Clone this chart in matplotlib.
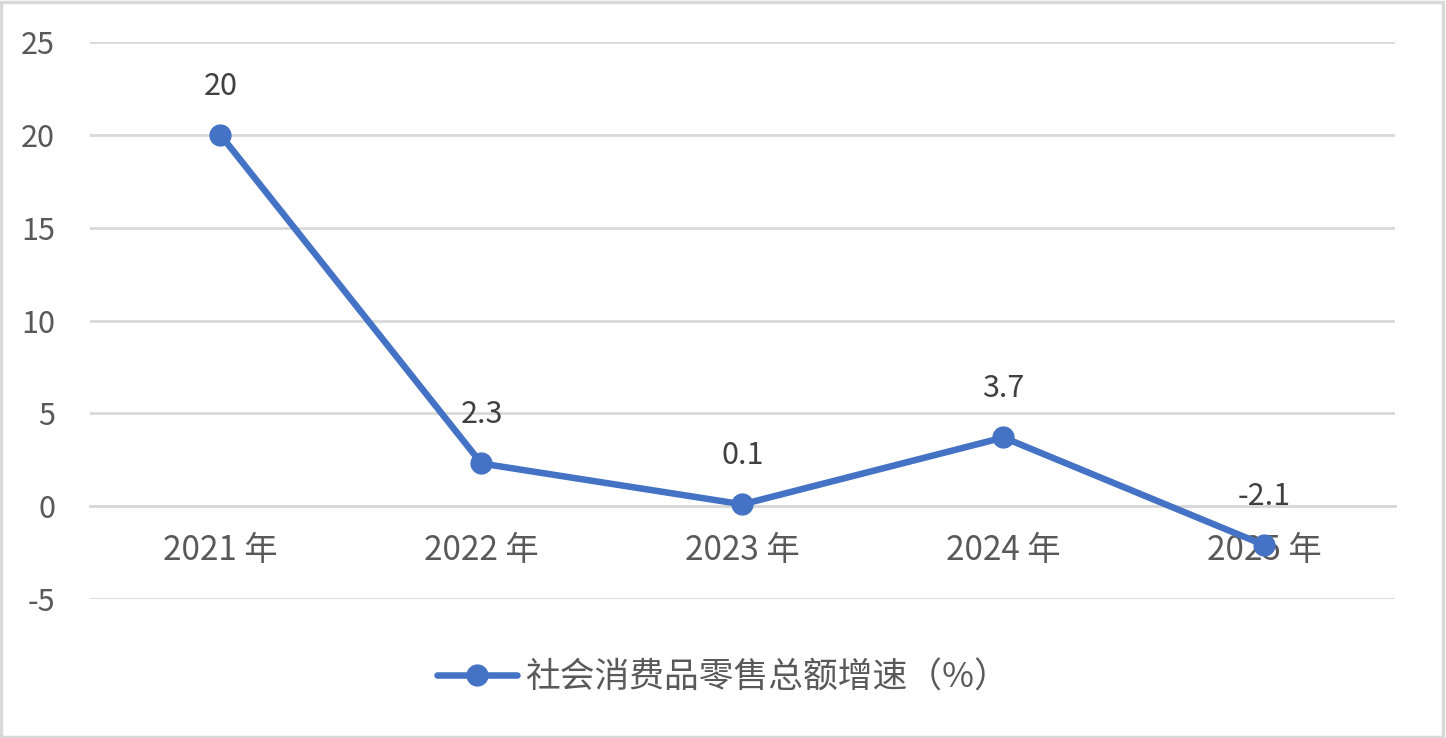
import matplotlib.pyplot as plt
from matplotlib.patches import Rectangle

plt.rcParams['font.family'] = ['Noto Sans CJK SC', 'DejaVu Sans']
plt.rcParams['axes.unicode_minus'] = False

years = ['2021 年', '2022 年', '2023 年', '2024 年', '2025 年']
growth = [20, 2.3, 0.1, 3.7, -2.1]
label_text = ['20', '2.3', '0.1', '3.7', '-2.1']
series_name = '社会消费品零售总额增速（%）'

blue = '#4472C4'
grey_text = '#595959'
grid_col = '#D9D9D9'

fig = plt.figure(figsize=(14.46, 7.38), dpi=100)
ax = fig.add_axes([0.0622, 0.1883, 0.9025, 0.7548])

x = list(range(len(years)))
ax.plot(x, growth, color=blue, linewidth=4.7, marker='o', markersize=15,
        label=series_name, solid_capstyle='round', zorder=3)

for xi, yi, t in zip(x, growth, label_text):
    ax.annotate(t, (xi, yi), xytext=(0, 35), textcoords='offset points',
                ha='center', va='center', fontsize=22, color='#404040')

ax.set_xlim(-0.5, 4.5)
ax.set_ylim(-5, 25)
ax.set_yticks([-5, 0, 5, 10, 15, 20, 25])
ax.set_xticks(x)
ax.set_xticklabels(years)
ax.yaxis.grid(True, color=grid_col, linewidth=2)
ax.set_axisbelow(True)

for s in ['top', 'right', 'left']:
    ax.spines[s].set_visible(False)
ax.spines['bottom'].set_position(('data', 0))
ax.spines['bottom'].set_color(grid_col)
ax.spines['bottom'].set_linewidth(2)
ax.spines['bottom'].set_zorder(0)

ax.tick_params(axis='x', length=0, pad=19, labelsize=24, labelcolor=grey_text)
ax.tick_params(axis='y', length=0, pad=25, labelsize=22, labelcolor=grey_text)

fig.legend(loc='center', bbox_to_anchor=(0.5, 1 - 678 / 738), frameon=False,
           fontsize=25, handlelength=2.3, labelcolor=grey_text, handletextpad=0.25)

fig.patches.append(Rectangle((0.001, 0.002), 0.997, 0.995, transform=fig.transFigure,
                             fill=False, edgecolor=grid_col, linewidth=2.5))

fig.savefig('out.png', dpi=100)
